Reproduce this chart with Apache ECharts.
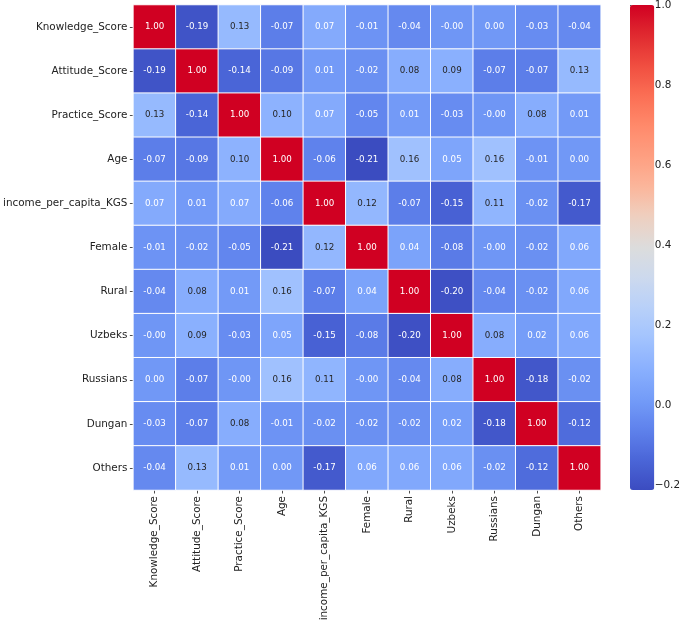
<!DOCTYPE html>
<html>
<head>
<meta charset="utf-8">
<script src="https://cdn.jsdelivr.net/npm/echarts@6/dist/echarts.min.js"></script>
<style>
  html, body { margin: 0; padding: 0; background: #fff; }
  #main { width: 683px; height: 624px; }
</style>
</head>
<body>
<div id="main"></div>
<script>
'use strict';

/** 相关系数热力图 */
var variables = ['Knowledge_Score', 'Attitude_Score', 'Practice_Score', 'Age',
    'income_per_capita_KGS', 'Female', 'Rural', 'Uzbeks', 'Russians', 'Dungan', 'Others'];

// one row per variable, same order as the columns
var rowKnowledge = [1.00, -0.19, 0.13, -0.07, 0.07, -0.01, -0.04, -0.003, 0.003, -0.03, -0.04];
var rowAttitude  = [-0.19, 1.00, -0.14, -0.09, 0.01, -0.02, 0.08, 0.09, -0.07, -0.07, 0.13];
var rowPractice  = [0.13, -0.14, 1.00, 0.10, 0.07, -0.05, 0.01, -0.03, -0.003, 0.08, 0.01];
var rowAge       = [-0.07, -0.09, 0.10, 1.00, -0.06, -0.212, 0.16, 0.05, 0.16, -0.01, 0.003];
var rowIncome    = [0.07, 0.01, 0.07, -0.06, 1.00, 0.12, -0.07, -0.15, 0.11, -0.02, -0.17];
var rowFemale    = [-0.01, -0.02, -0.05, -0.212, 0.12, 1.00, 0.04, -0.08, -0.003, -0.02, 0.06];
var rowRural     = [-0.04, 0.08, 0.01, 0.16, -0.07, 0.04, 1.00, -0.20, -0.04, -0.02, 0.06];
var rowUzbeks    = [-0.003, 0.09, -0.03, 0.05, -0.15, -0.08, -0.20, 1.00, 0.08, 0.02, 0.06];
var rowRussians  = [0.003, -0.07, -0.003, 0.16, 0.11, -0.003, -0.04, 0.08, 1.00, -0.18, -0.02];
var rowDungan    = [-0.03, -0.07, 0.08, -0.01, -0.02, -0.02, -0.02, 0.02, -0.18, 1.00, -0.12];
var rowOthers    = [-0.04, 0.13, 0.01, 0.003, -0.17, 0.06, 0.06, 0.06, -0.02, -0.12, 1.00];

var rows = [rowKnowledge, rowAttitude, rowPractice, rowAge, rowIncome, rowFemale,
    rowRural, rowUzbeks, rowRussians, rowDungan, rowOthers];

var colorbarTicks = [-0.2, 0.0, 0.2, 0.4, 0.6, 0.8, 1.0];

// coolwarm (a bit more saturated on the warm side, as in the picture)
var coolwarm = ['#3B4CC0', '#4B66D8', '#5F82EC', '#749CF8', '#8AB0FE', '#A2C3FE',
    '#B8D0F9', '#CCD9EE', '#DCDCDC', '#EED0C0', '#FBB69B', '#FE9F81', '#FF8A6B',
    '#FB6F55', '#F04E40', '#E02A30', '#D00022'];

var heatData = [];
var vMin = Infinity, vMax = -Infinity;
rows.forEach(function (row, y) {
    row.forEach(function (v, x) {
        vMin = Math.min(vMin, v);
        vMax = Math.max(vMax, v);
        heatData.push({
            value: [x, y, v],
            label: { color: (v >= 0.075 && v < 0.9) ? '#262626' : '#ffffff' }
        });
    });
});

var chart = echarts.init(document.getElementById('main'));

var txt = '#222222';
var font = 'DejaVu Sans';

var option = {
    animation: false,
    textStyle: { fontFamily: font },
    grid: [{
        left: 132, top: 5, width: 468.7, height: 485
    }, {
        left: 630, top: 5, width: 24.3, height: 485
    }],
    xAxis: [{
        type: 'category',
        data: variables,
        gridIndex: 0,
        position: 'bottom',
        axisLine: { show: false },
        axisTick: { show: true, length: 3.5, alignWithLabel: true, lineStyle: { color: txt, width: 0.8 } },
        axisLabel: { rotate: 90, interval: 0, margin: 6, fontSize: 10.4, color: txt, fontFamily: font },
        splitArea: { show: false }
    }, {
        type: 'value',
        gridIndex: 1,
        show: false
    }],
    yAxis: [{
        type: 'category',
        data: variables,
        gridIndex: 0,
        inverse: true,
        axisLine: { show: false },
        axisTick: { show: true, length: 3.5, alignWithLabel: true, lineStyle: { color: txt, width: 0.8 } },
        axisLabel: { interval: 0, margin: 6, fontSize: 10.4, color: txt, fontFamily: font },
        splitArea: { show: false }
    }, {
        type: 'value',
        gridIndex: 1,
        position: 'right',
        min: vMin,
        max: vMax,
        axisLine: { show: false },
        splitLine: { show: false },
        axisTick: {
            show: true, length: 3.5, customValues: colorbarTicks,
            lineStyle: { color: txt, width: 0.8 }
        },
        axisLabel: {
            margin: 6, fontSize: 10.4, color: txt, fontFamily: font,
            customValues: colorbarTicks,
            formatter: function (v) {
                return v < 0 ? '\u2212' + Math.abs(v).toFixed(1) : v.toFixed(1);
            }
        }
    }],
    visualMap: {
        type: 'continuous',
        min: vMin,
        max: vMax,
        seriesIndex: 0,
        calculable: false,
        orient: 'vertical',
        left: 630,
        top: 5,
        itemWidth: 24.3,
        itemHeight: 485,
        padding: 0,
        text: null,
        showLabel: false,
        inRange: { color: coolwarm }
    },
    series: [{
        type: 'heatmap',
        xAxisIndex: 0,
        yAxisIndex: 0,
        data: heatData,
        itemStyle: { borderColor: '#ffffff', borderWidth: 1 },
        label: {
            show: true,
            fontSize: 8.7,
            fontFamily: font,
            formatter: function (p) { return p.value[2].toFixed(2); }
        },
        emphasis: { disabled: true }
    }]
};

chart.setOption(option);
</script>
</body>
</html>
